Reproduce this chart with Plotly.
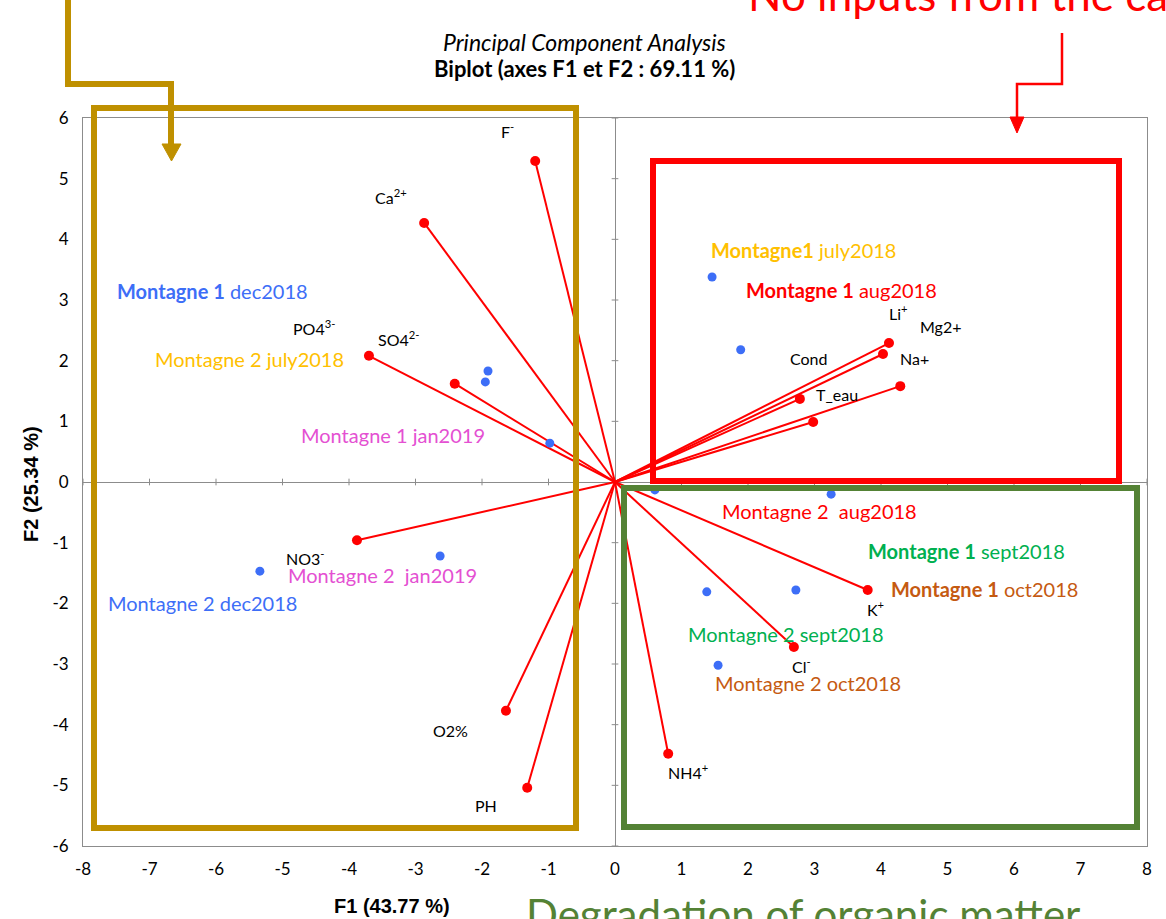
import plotly.graph_objects as go

# ---------------- data ----------------
var_names = ["F<sup>-</sup>", "Ca<sup>2+</sup>", "SO4<sup>2-</sup>", "PO4<sup>3-</sup>", "NO3<sup>-</sup>",
             "O2%", "PH", "NH4<sup>+</sup>", "Cl<sup>-</sup>", "K<sup>+</sup>",
             "Li<sup>+</sup>", "Mg2+", "Na+", "T_eau", "Cond"]
var_f1 = [-1.20, -2.87, -3.70, -2.41, -3.88, -1.64, -1.32, 0.80, 2.69, 3.80, 4.12, 4.03, 4.29, 2.78, 2.98]
var_f2 = [5.29, 4.27, 2.08, 1.62, -0.96, -3.77, -5.04, -4.48, -2.72, -1.78, 2.29, 2.11, 1.58, 1.37, 0.99]
# label anchor positions (data units)
var_lab_x = [-1.62, -3.37, -3.26, -4.53, -4.66, -2.47, -1.94, 1.10, 2.80, 3.91, 4.26, 4.89, 4.51, 3.34, 2.92]
var_lab_y = [5.79, 4.71, 2.37, 2.54, -1.24, -4.09, -5.34, -4.78, -3.02, -2.08, 2.79, 2.57, 2.03, 1.45, 2.04]

obs_f1 = [1.46, 1.89, -1.91, -1.95, -0.98, 0.60, 3.25, 1.38, 2.72, 1.55, -2.63, -5.34]
obs_f2 = [3.38, 2.18, 1.83, 1.65, 0.64, -0.13, -0.20, -1.81, -1.78, -3.02, -1.22, -1.47]

obs_labels = ["<b>Montagne 1</b> dec2018", "Montagne 2 july2018", "Montagne 1 jan2019",
              "Montagne 2  jan2019", "Montagne 2 dec2018", "<b>Montagne1</b> july2018",
              "<b>Montagne 1</b> aug2018", "Montagne 2  aug2018", "<b>Montagne 1</b> sept2018",
              "<b>Montagne 1</b> oct2018", "Montagne 2 sept2018", "Montagne 2 oct2018"]
obs_lab_x = [-6.05, -5.49, -3.34, -3.50, -6.21, 2.83, 3.41, 3.08, 5.29, 5.55, 2.57, 2.90]
obs_lab_y = [3.15, 2.03, 0.77, -1.53, -1.99, 3.82, 3.16, -0.48, -1.14, -1.76, -2.51, -3.31]
obs_lab_colors = ["#3D6EF7", "#FFC000", "#E450D2", "#E450D2", "#3D6EF7", "#FFC000",
                  "#FF0000", "#FF0000", "#00B050", "#C55A11", "#00B050", "#C55A11"]

x_ticks = list(range(-8, 9))
y_ticks = list(range(-6, 7))
x_ticktext = [str(t) for t in x_ticks]
y_ticktext = [str(t) for t in y_ticks]

title_line1 = "Principal Component Analysis"
title_line2 = "Biplot (axes F1 et F2 : 69.11 %)"
x_title = "F1 (43.77 %)"
y_title = "F2 (25.34 %)"

# ---------------- layout helpers ----------------
W, H = 1166, 919
L, R, T, B = 83, 1147, 118, 846
def PX(px):
    return (px - L) / (R - L)
def PY(py):
    return (B - py) / (B - T)

CAL = "Lato, Carlito, Calibri, sans-serif"
ARI = "Liberation Sans, Arial, sans-serif"

fig = go.Figure()

# vectors
lx, ly = [], []
for a, b in zip(var_f1, var_f2):
    lx += [0, a, None]
    ly += [0, b, None]
fig.add_trace(go.Scatter(x=lx, y=ly, mode="lines", line=dict(color="#FF0000", width=2),
                         hoverinfo="skip", showlegend=False))
fig.add_trace(go.Scatter(x=var_f1, y=var_f2, mode="markers",
                         marker=dict(color="#FF0000", size=10), showlegend=False))
fig.add_trace(go.Scatter(x=obs_f1, y=obs_f2, mode="markers",
                         marker=dict(color="#3D6EF7", size=9), showlegend=False))

ann = []
for t, x, y in zip(var_names, var_lab_x, var_lab_y):
    ann.append(dict(x=x, y=y, xref="x", yref="y", text=t, showarrow=False,
                    xanchor="center", yanchor="middle",
                    font=dict(family=CAL, size=16, color="black")))
for t, x, y, c in zip(obs_labels, obs_lab_x, obs_lab_y, obs_lab_colors):
    ann.append(dict(x=x, y=y, xref="x", yref="y", text=t, showarrow=False,
                    xanchor="center", yanchor="middle",
                    font=dict(family=CAL, size=20, color=c)))

def ptext(px, py, text, font, **kw):
    d = dict(x=PX(px), y=PY(py), xref="paper", yref="paper", text=text, showarrow=False,
             xanchor="center", yanchor="middle", font=font)
    d.update(kw)
    return d

ann.append(ptext(584, 42, "<i>" + title_line1 + "</i>", dict(family=CAL, size=23, color="black")))
ann.append(ptext(584, 68, "<b>" + title_line2 + "</b>", dict(family=CAL, size=22, color="black")))
ann.append(ptext(392, 906, "<b>" + x_title + "</b>", dict(family=ARI, size=20, color="black")))
ann.append(ptext(31, 484, "<b>" + y_title + "</b>", dict(family=ARI, size=20, color="black"),
                 textangle=-90))

# big callouts
ann.append(dict(x=PX(746), y=PY(22), xref="paper", yref="paper", text="No inputs from the catchment",
                xanchor="left", yanchor="bottom", showarrow=False,
                font=dict(family=CAL, size=44, color="#FF0000")))
ann.append(dict(x=PX(524), y=PY(887), xref="paper", yref="paper", text="Degradation of organic matter",
                xanchor="left", yanchor="top", showarrow=False,
                font=dict(family=CAL, size=42, color="#548235")))

shapes = []
# tick marks on the zero lines
for t in x_ticks:
    shapes.append(dict(type="line", xref="x", yref="y", x0=t, x1=t, y0=-0.055, y1=0.055,
                       line=dict(color="#8C8C8C", width=1), layer="below"))
for t in y_ticks:
    shapes.append(dict(type="line", xref="x", yref="y", y0=t, y1=t, x0=-0.05, x1=0.05,
                       line=dict(color="#8C8C8C", width=1), layer="below"))

# boxes
def rect(x0, y0, x1, y1, color, w):
    return dict(type="rect", xref="paper", yref="paper", x0=PX(x0), x1=PX(x1), y0=PY(y1), y1=PY(y0),
                line=dict(color=color, width=w), fillcolor="rgba(0,0,0,0)")
shapes.append(rect(94, 108, 576, 828, "#BF9000", 6))
shapes.append(rect(653, 161, 1119, 481, "#FF0000", 6))
shapes.append(rect(624, 488, 1137, 827, "#548235", 6))

def path(points, close=False):
    s = "M " + " L ".join(f"{PX(a):.5f},{PY(b):.5f}" for a, b in points)
    return s + (" Z" if close else "")

shapes.append(dict(type="path", xref="paper", yref="paper",
                   path=path([(68, -5), (68, 84), (171, 84), (171, 148)]),
                   line=dict(color="#BF9000", width=6)))
shapes.append(dict(type="path", xref="paper", yref="paper",
                   path=path([(162, 144), (181, 144), (171.5, 161)], close=True),
                   line=dict(color="#BF9000", width=1), fillcolor="#BF9000"))
shapes.append(dict(type="path", xref="paper", yref="paper",
                   path=path([(1062, 33), (1062, 84), (1017, 84), (1017, 120)]),
                   line=dict(color="#FF0000", width=2.5)))
shapes.append(dict(type="path", xref="paper", yref="paper",
                   path=path([(1010, 117), (1024, 117), (1017, 133)], close=True),
                   line=dict(color="#FF0000", width=1), fillcolor="#FF0000"))

fig.update_layout(
    width=W, height=H,
    margin=dict(l=L, r=W - R, t=T, b=H - B),
    paper_bgcolor="white", plot_bgcolor="white",
    showlegend=False,
    annotations=ann, shapes=shapes,
    xaxis=dict(range=[-8, 8], tickmode="array", tickvals=x_ticks, ticktext=x_ticktext,
               ticks="", showgrid=False,
               zeroline=True, zerolinecolor="#8C8C8C", zerolinewidth=1,
               showline=True, linecolor="#8C8C8C", linewidth=1, mirror=True,
               tickfont=dict(family=CAL, size=17, color="black"), ticklabelstandoff=8),
    yaxis=dict(range=[-6, 6], tickmode="array", tickvals=y_ticks, ticktext=y_ticktext,
               ticks="", showgrid=False,
               zeroline=True, zerolinecolor="#8C8C8C", zerolinewidth=1,
               showline=True, linecolor="#8C8C8C", linewidth=1, mirror=True,
               tickfont=dict(family=CAL, size=17, color="black"), ticklabelstandoff=10),
)

fig.write_html("out.html", config={"displayModeBar": False},
               post_script="document.body.style.margin='0';")
